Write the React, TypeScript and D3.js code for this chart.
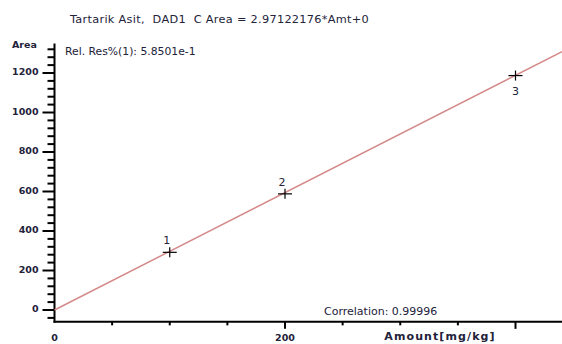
import * as d3 from "d3";

const amounts = [100, 200, 400];
const areas = [292, 588, 1187];
const pointLabels = ["1", "2", "3"];
const slope = 2.97122176;

const yMajorTicks = [0, 200, 400, 600, 800, 1000, 1200];
const xTickLabels = [0, 200];
const title = "Tartarik Asit,  DAD1  C Area = 2.97122176*Amt+0";

const W = 562;
const H = 344;
const font = "'DejaVu Sans', Verdana, sans-serif";
const ink = "#22223a";

export default function App() {
  const x = d3.scaleLinear().domain([0, 400]).range([54.5, 515.5]);
  const y = d3.scaleLinear().domain([0, 1200]).range([310, 73]);

  const xMax = x.invert(W);
  const yMin = -60;
  const yMax = 1350;

  // minor ticks every 40 on y, every 50 on x
  const yMinor = d3.range(-40, 1340, 40).filter((v) => v % 200 !== 0);
  const xMinor = d3.range(50, xMax, 50).filter((v) => v % 200 !== 0);
  const xMajor = d3.range(200, xMax, 200);

  const fitLine = d3
    .line<number>()
    .x((d) => x(d))
    .y((d) => y(slope * d));

  const x0 = x(0);
  const yAxisY = y(yMin);

  return (
    <svg
      width={W}
      height={H}
      style={{ position: "absolute", left: 0, top: 0, background: "#fff" }}
    >
      <text
        x={70}
        y={23}
        fontFamily={font}
        fontSize={11.3}
        fill={ink}
        letterSpacing={0.3}
        style={{ whiteSpace: "pre" }}
      >
        {title}
      </text>
      <text x={12} y={48} fontFamily={font} fontSize={9.5} fontWeight="bold" fill={ink}>
        Area
      </text>
      <text x={65} y={55} fontFamily={font} fontSize={10.8} fill={ink}>
        Rel. Res%(1): 5.8501e-1
      </text>

      {/* y axis */}
      <line x1={x0} x2={x0} y1={y(yMax)} y2={yAxisY + 1} stroke="#000" strokeWidth={2} />
      {yMajorTicks.map((v) => (
        <g key={"ym" + v}>
          <line x1={x0 - 12} x2={x0} y1={y(v)} y2={y(v)} stroke="#000" strokeWidth={2} />
          <text
            x={x0 - 16}
            y={y(v) + 2}
            textAnchor="end"
            fontFamily={font}
            fontSize={9.5}
            fontWeight="bold"
            fill={ink}
          >
            {v}
          </text>
        </g>
      ))}
      {yMinor.map((v) => (
        <line key={"yn" + v} x1={x0 - 7} x2={x0} y1={y(v)} y2={y(v)} stroke="#000" strokeWidth={2} />
      ))}

      {/* x axis */}
      <line x1={x0 - 1} x2={W} y1={yAxisY} y2={yAxisY} stroke="#000" strokeWidth={2} />
      {xMajor.map((v) => (
        <line key={"xm" + v} x1={x(v)} x2={x(v)} y1={yAxisY} y2={yAxisY + 7} stroke="#000" strokeWidth={2} />
      ))}
      {xMinor.map((v) => (
        <line key={"xn" + v} x1={x(v)} x2={x(v)} y1={yAxisY} y2={yAxisY + 3.5} stroke="#000" strokeWidth={2} />
      ))}
      {xTickLabels.map((v) => (
        <text
          key={"xl" + v}
          x={x(v)}
          y={341}
          textAnchor="middle"
          fontFamily={font}
          fontSize={9.5}
          fontWeight="bold"
          fill={ink}
        >
          {v}
        </text>
      ))}
      <text
        x={440}
        y={340}
        textAnchor="middle"
        fontFamily={font}
        fontSize={11}
        fontWeight="bold"
        fill={ink}
        letterSpacing={1.1}
      >
        Amount[mg/kg]
      </text>

      {/* calibration line */}
      <path
        d={fitLine([x.invert(x0), xMax]) ?? ""}
        fill="none"
        stroke="#d48a8a"
        strokeWidth={1.5}
      />

      {/* points */}
      {amounts.map((a, i) => {
        const px = x(a);
        const py = y(areas[i]);
        const below = i === amounts.length - 1;
        return (
          <g key={"p" + i}>
            <line x1={px - 7} x2={px + 7} y1={py} y2={py} stroke="#000" strokeWidth={1.2} />
            <line x1={px} x2={px} y1={py - 5} y2={py + 5} stroke="#000" strokeWidth={1.2} />
            <text
              x={below ? px : px - 3}
              y={below ? py + 19 : py - 8}
              textAnchor="middle"
              fontFamily={font}
              fontSize={11}
              fill={ink}
            >
              {pointLabels[i]}
            </text>
          </g>
        );
      })}

      <text x={324} y={315} fontFamily={font} fontSize={11} fill={ink}>
        Correlation: 0.99996
      </text>
    </svg>
  );
}
